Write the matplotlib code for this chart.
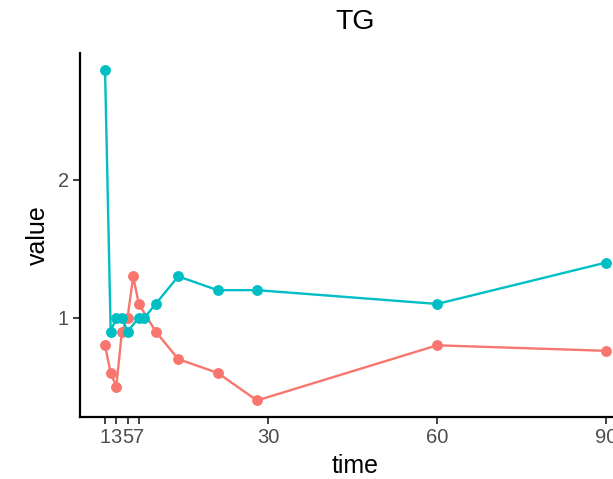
import matplotlib
matplotlib.use("Agg")
import matplotlib.pyplot as plt

plt.rcParams['font.family'] = ['Liberation Sans', 'DejaVu Sans']

# Data
time_red = [1, 2, 3, 4, 5, 6, 7, 10, 14, 21, 28, 60, 90]
value_red = [0.8, 0.6, 0.5, 0.9, 1.0, 1.3, 1.1, 0.9, 0.7, 0.6, 0.4, 0.8, 0.76]
time_cyan = [1, 2, 3, 4, 5, 7, 8, 10, 14, 21, 28, 60, 90]
value_cyan = [2.8, 0.9, 1.0, 1.0, 0.9, 1.0, 1.0, 1.1, 1.3, 1.2, 1.2, 1.1, 1.4]
xticks = [1, 3, 5, 7, 30, 60, 90]
yticks = [1, 2]

W, H = 613, 479
fig = plt.figure(figsize=(W / 100, H / 100), dpi=100)
left, right, top, bottom = 80, 631, 53, 417
ax = fig.add_axes([left / W, (H - bottom) / H, (right - left) / W, (bottom - top) / H])

ax.plot(time_red, value_red, color='#F8766D', lw=1.7, marker='o', ms=6.8, zorder=3)
ax.plot(time_cyan, value_cyan, color='#00BFC4', lw=1.7, marker='o', ms=6.8, zorder=3)

xmin, xmax = 1, 90
ex = (xmax - xmin) * 0.05
ax.set_xlim(xmin - ex, xmax + ex)
ymin, ymax = 0.4, 2.8
ey = (ymax - ymin) * 0.05
ax.set_ylim(ymin - ey, ymax + ey)

ax.set_xticks(xticks)
ax.set_xticklabels([str(t) for t in xticks])
ax.set_yticks(yticks)
ax.set_yticklabels([str(t) for t in yticks])

for s in ['top', 'right']:
    ax.spines[s].set_visible(False)
for s in ['left', 'bottom']:
    ax.spines[s].set_linewidth(1.6)
    ax.spines[s].set_color('black')

ax.tick_params(axis='both', length=5, width=1.3, color='#333333',
               labelsize=14.5, labelcolor='#4D4D4D', pad=3)

ax.set_xlabel('time', fontsize=18, color='black', labelpad=5)
ax.set_ylabel('value', fontsize=18, color='black', labelpad=6)
fig.text((80 + 631) / 2 / W, 1 - 22 / H, 'TG', fontsize=20.5, ha='center', va='center')

fig.savefig('out.png', dpi=100)
